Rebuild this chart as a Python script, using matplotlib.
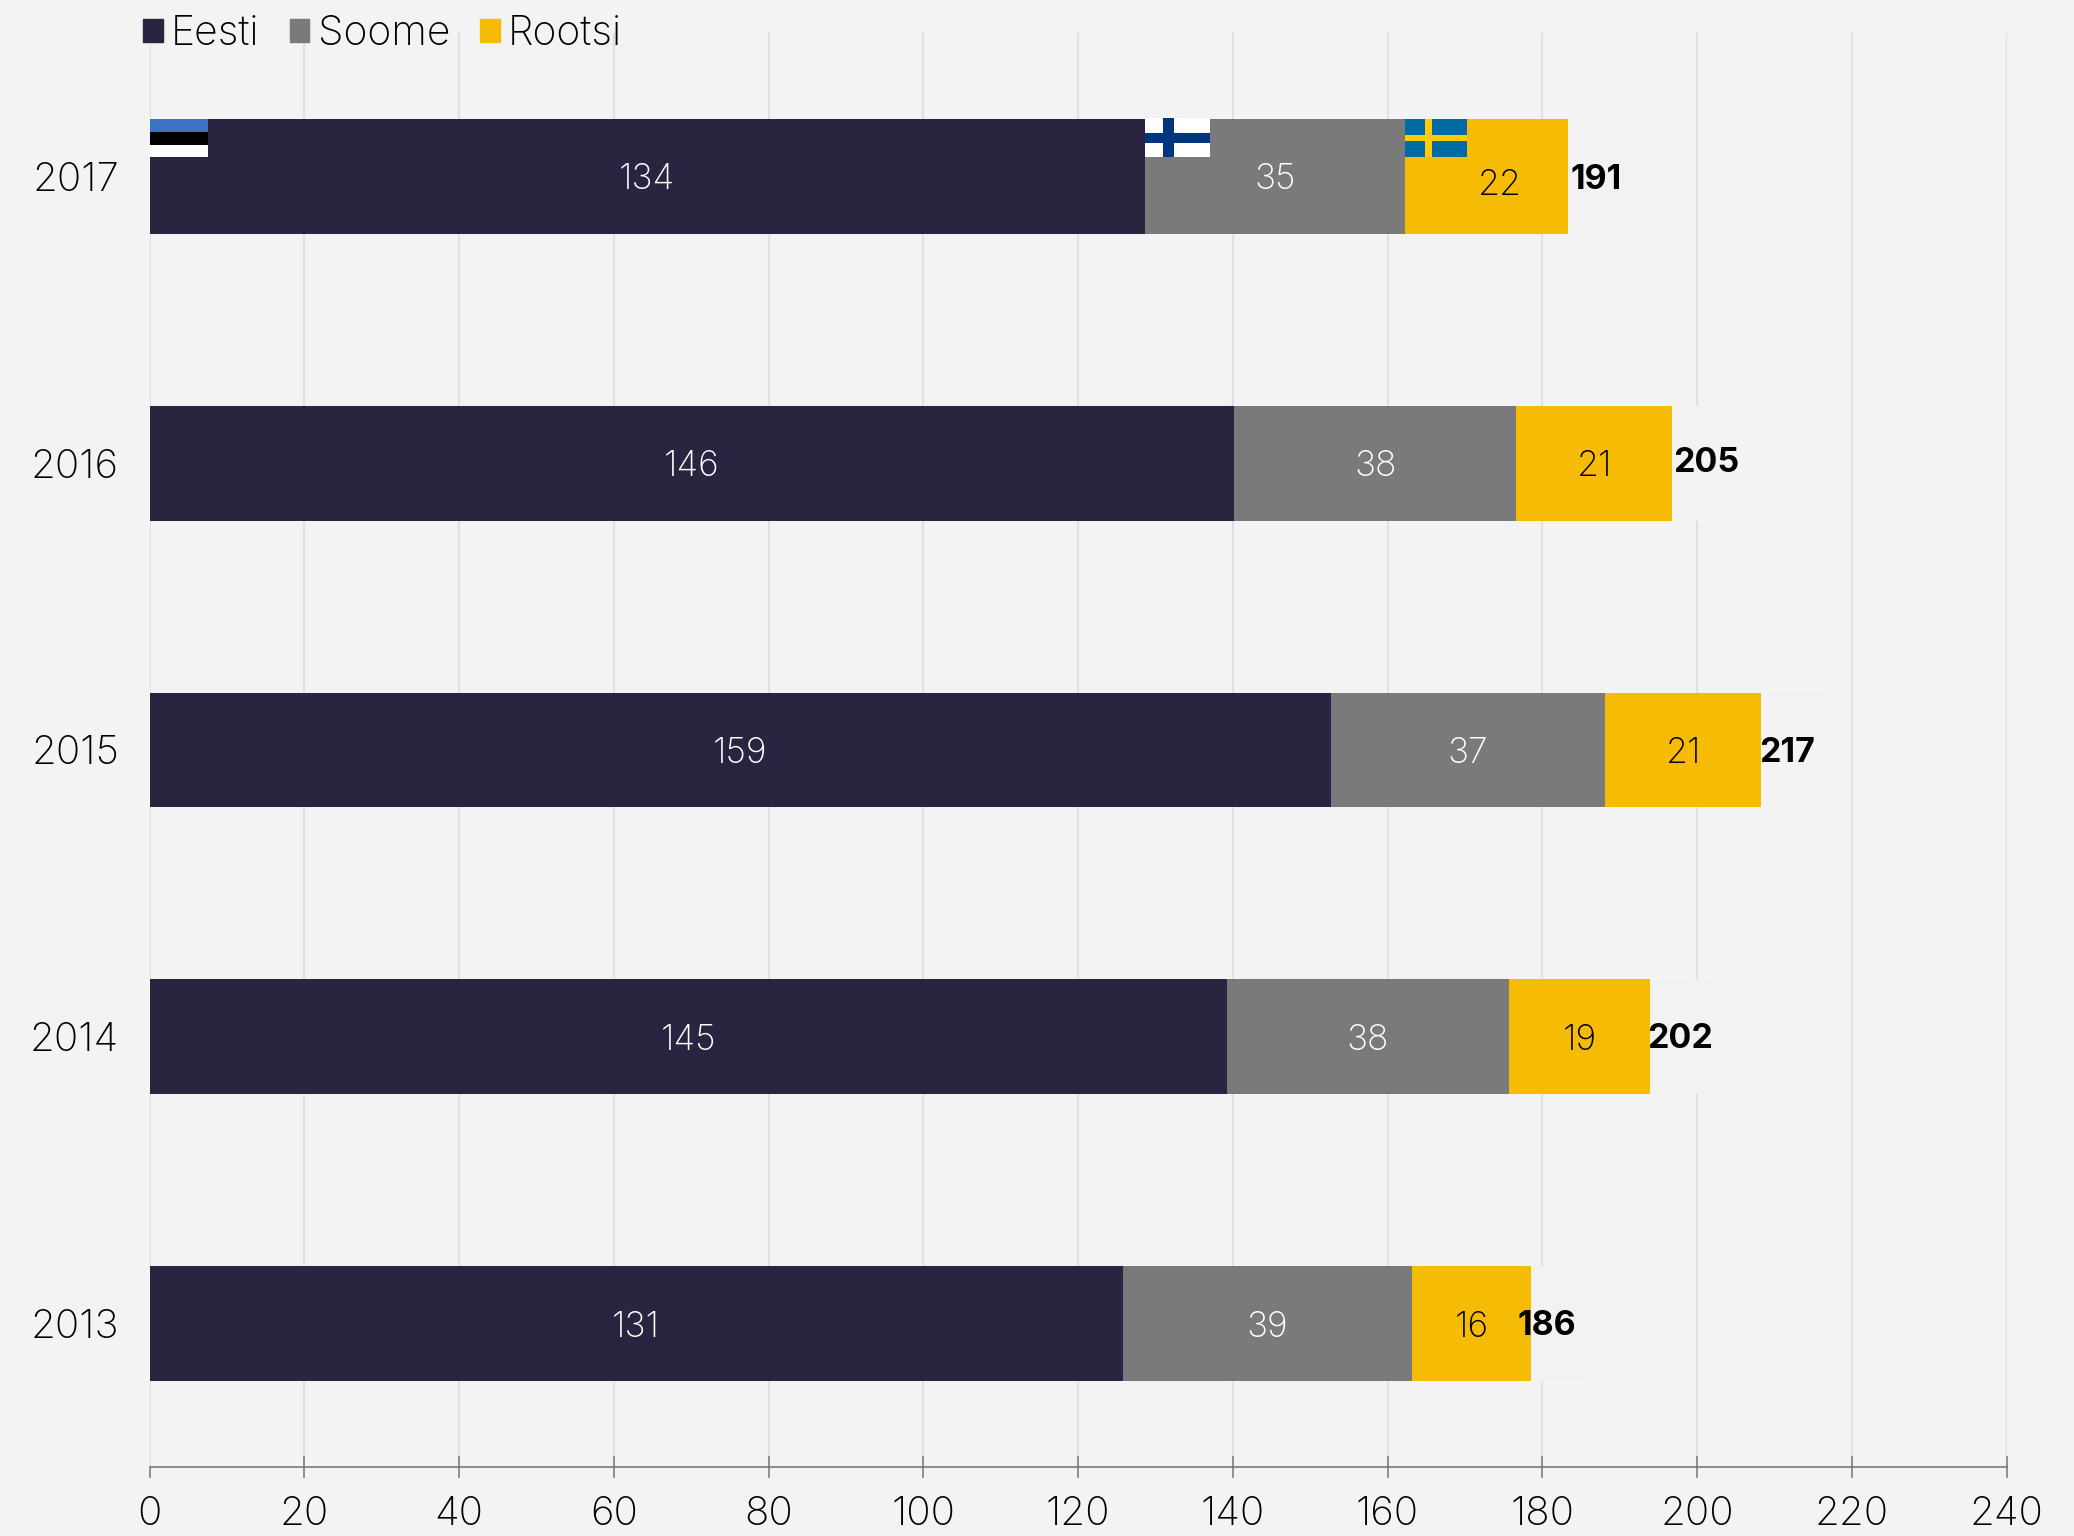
import numpy as np
import matplotlib
matplotlib.use("Agg")
import matplotlib.pyplot as plt
from matplotlib.lines import TICKDOWN
from matplotlib.patches import Patch, Rectangle

plt.rcParams['font.family'] = ['Inter', 'Lato', 'DejaVu Sans']

years = ["2017", "2016", "2015", "2014", "2013"]
eesti = [134, 146, 159, 145, 131]
soome = [35, 38, 37, 38, 39]
rootsi = [22, 21, 21, 19, 16]
totals = [191, 205, 217, 202, 186]
# faint helper bar behind the total labels
tail = [8.2, 8.4, 9.4, 8.7, 7.5]
xticks = list(range(0, 241, 20))

# hand moved labels in the original, data units
total_dx = [3.7, 4.6, 3.4, 4.1, 2.1]
total_dy = [0, -0.014, 0, -0.005, -0.005]
rootsi_dx = [1.8, 0, 0, 0, 0]
rootsi_dy = [0.018, 0, 0, 0, 0]

BG = "#F3F3F3"
DARK = "#2B2440"
GREY = "#7A7A7A"
YELLOW = "#F6BC05"
FS = 29
LW = "light"

fig = plt.figure(figsize=(20.74, 15.36), dpi=100, facecolor=BG)
ax = fig.add_axes([149.5/2074, 1-1467/1536, 1857/2074, 1434/1536], facecolor=BG)

y = np.arange(len(years))
ax.set_xlim(0, 240)
ax.set_ylim(4.5, -0.5)
ax.set_xticks(xticks)
ax.set_yticks(y)
ax.set_yticklabels(years)
ax.grid(axis="x", color="#E0E0E0", lw=1.5)
ax.set_axisbelow(True)
ax.tick_params(axis="x", direction="inout", length=16, width=1.2, color="#808080", pad=13, labelsize=FS)
ax.tick_params(axis="y", length=0, pad=22, labelsize=FS)
for lab in ax.get_xticklabels() + ax.get_yticklabels():
    lab.set_fontweight(LW)
for s in ["top", "right", "left"]:
    ax.spines[s].set_visible(False)
ax.spines["bottom"].set_color("#707070")
ax.spines["bottom"].set_linewidth(1.1)
# the tick at 0 only goes down
t0 = ax.xaxis.get_major_ticks()[0]
t0.tick1line.set_marker(TICKDOWN)
t0.tick1line.set_markersize(8)

# bars run on their own 0-250 scale, the printed axis only goes 0-240
ax2 = ax.twiny()
ax2.set_xlim(0, 250)
ax2.axis("off")
h = 0.4
left2 = np.array(eesti)
left3 = left2 + np.array(soome)
end = left3 + np.array(rootsi)
ax2.barh(y, eesti, h, color=DARK)
ax2.barh(y, soome, h, left=left2, color=GREY)
ax2.barh(y, rootsi, h, left=left3, color=YELLOW)
ax2.barh(y, tail, h, left=end, color="#F2F2F2")

for i in range(len(years)):
    ax2.text(eesti[i]/2, y[i], str(eesti[i]), color="white", ha="center", va="center_baseline", fontsize=25.5, fontweight=LW)
    ax2.text(left2[i]+soome[i]/2, y[i], str(soome[i]), color="white", ha="center", va="center_baseline", fontsize=25.5, fontweight=LW)
    ax2.text(left3[i]+rootsi[i]/2+rootsi_dx[i], y[i]+rootsi_dy[i], str(rootsi[i]), color="black", ha="center", va="center_baseline", fontsize=25.5, fontweight=LW)
    ax2.text(end[i]+total_dx[i], y[i]+total_dy[i], str(totals[i]), color="black", ha="center", va="center_baseline", fontsize=24.5, fontweight="bold")

# flags sit in the top left corner of each 2017 segment
def box(x, yy, w, hh, c):
    ax2.add_patch(Rectangle((x, yy), w, hh, facecolor=c, edgecolor="none", zorder=5))

fh = 0.134
top = y[0] - h/2
# Estonia
for k, c in enumerate(["#3A73C4", "#000000", "#FFFFFF"]):
    box(0, top + k*fh/3, 7.9, fh/3, c)
# Finland
fx = left2[0]
box(fx, top-0.005, 8.8, fh+0.005, "#FFFFFF")
box(fx+0.28*8.8, top-0.005, 0.16*8.8, fh+0.005, "#003580")
box(fx, top+0.37*fh, 8.8, 0.26*fh, "#003580")
# Sweden
fx = left3[0]
box(fx, top, 8.4, fh, "#006AA7")
box(fx+0.32*8.4, top, 0.12*8.4, fh, "#FECC00")
box(fx, top+0.41*fh, 8.4, 0.17*fh, "#FECC00")

handles = [Patch(color=DARK), Patch(color=GREY), Patch(color=YELLOW)]
fig.legend(handles, ["Eesti", "Soome", "Rootsi"], ncol=3, frameon=False,
           loc="upper left", bbox_to_anchor=(143/2074, 1-15/1536), borderaxespad=0, borderpad=0,
           handlelength=0.48, handleheight=0.48, handletextpad=0.2, columnspacing=0.74,
           prop={"family": ["Inter"], "weight": LW, "size": 29.5})

fig.savefig("out.png", dpi=100, facecolor=BG)
